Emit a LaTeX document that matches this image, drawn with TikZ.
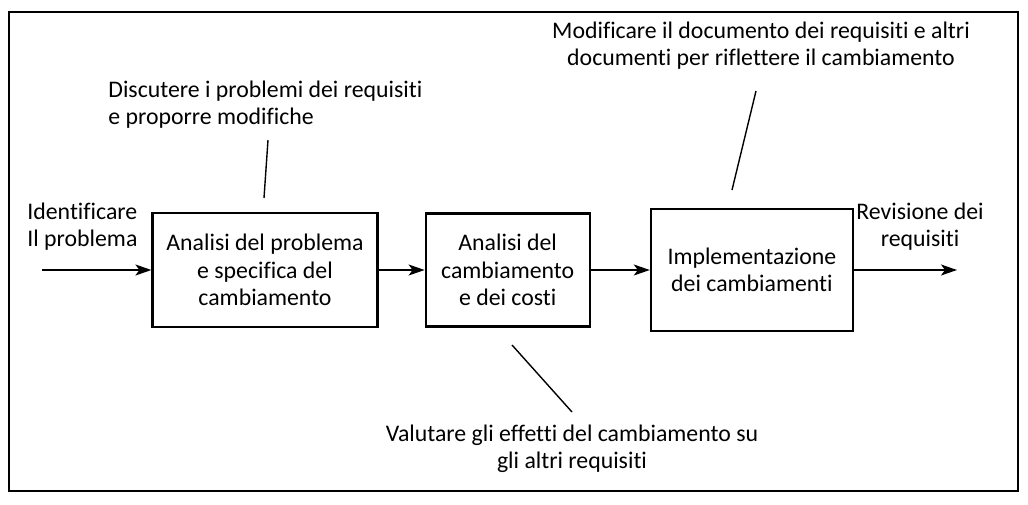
\documentclass[tikz,border=0pt]{standalone}
\usepackage{fontspec}
\setmainfont[Ligatures=NoCommon]{Carlito}
\usetikzlibrary{arrows.meta, positioning}

\begin{document}
\begin{tikzpicture}[
    x=0.5pt, y=-0.5pt,
    node distance=23pt,
    block/.style={rectangle, draw, line width=1.1pt, inner sep=0pt,
                  minimum width=#1, align=center, font=\fontsize{11.9}{13.6}\selectfont},
    note/.style={font=\fontsize{11.9}{13.4}\selectfont, inner sep=0pt},
    arr/.style={-{Stealth[length=8pt, width=5.5pt, inset=2pt]}, line width=0.7pt},
    callout/.style={line width=0.7pt},
]
    \useasboundingbox (0,0) rectangle (1028,504);
    % frame
    \draw[line width=1pt] (9,12) rectangle (1018,491);

    % Process boxes
    \node[block=112.5pt, minimum height=57pt] (anal) at (265,270) {Analisi del problema\\e specifica del\\cambiamento};
    \node[block=82pt, minimum height=56.5pt, right=23pt of anal] (costi) {Analisi del\\cambiamento\\e dei costi};
    \node[block=101pt, minimum height=61pt, right=29.5pt of costi] (impl) {Implementazione\\dei cambiamenti};

    % Input / output
    \coordinate (inp) at (42,270);
    \coordinate (outp) at (957,270);
    \node[note, anchor=west, align=left] (ident) at (27,227) {Identificare\\Il problema};
    \node[note, align=center] (rev) at (920,227) {Revisione dei\\requisiti};

    % Annotations
    \node[note, anchor=west, align=left] (disc) at (108,105) {Discutere i problemi dei requisiti\\e proporre modifiche};
    \node[note, align=center] (modif) at (761,46) {Modificare il documento dei requisiti e altri\\documenti per riflettere il cambiamento};
    \node[note, align=center] (valut) at (572,449) {Valutare gli effetti del cambiamento su\\gli altri requisiti};

    \coordinate (discA) at (268,140);
    \coordinate (discB) at (264,198);
    \coordinate (modifA) at (756,91);
    \coordinate (modifB) at (732,190);
    \coordinate (valutA) at (512,345);
    \coordinate (valutB) at (572,412);

    % Connections
    \draw[arr] (inp) -- (anal);
    \draw[arr] (anal) -- (costi);
    \draw[arr] (costi) -- (impl);
    \draw[arr] (impl) -- (outp);

    % Callout lines
    \draw[callout] (discA) -- (discB);
    \draw[callout] (modifA) -- (modifB);
    \draw[callout] (valutA) -- (valutB);
\end{tikzpicture}
\end{document}
